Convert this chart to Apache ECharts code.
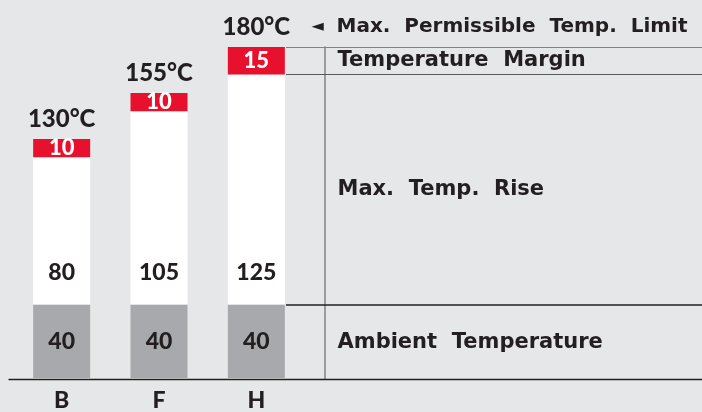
<!DOCTYPE html>
<html>
<head>
<meta charset="utf-8">
<script src="https://cdn.jsdelivr.net/npm/echarts@6/dist/echarts.min.js"></script>
<style>
  html, body { margin: 0; padding: 0; background: #e6e7e8; }
  #chart { width: 702px; height: 412px; }
</style>
</head>
<body>
<div id="chart"></div>
<script>
// insulation classes and their temperature parts (°C)
const categories = ['B', 'F', 'H'];
const ambient = [40, 40, 40];
const tempRise = [80, 105, 125];
const margin = [10, 10, 15];
// texts of the legend on the right
const bandNames = ['Ambient  Temperature', 'Max.  Temp.  Rise', 'Temperature  Margin'];
const limitName = 'Max.  Permissible  Temp.  Limit';

const totals = categories.map((c, i) => ambient[i] + tempRise[i] + margin[i]);
const yMax = Math.max(...totals);

// levels of the tallest column, used for the legend on the right
const h = totals.indexOf(yMax);
const lv1 = ambient[h];
const lv2 = lv1 + tempRise[h];
const lv3 = lv2 + margin[h];

const FONT = 'Lato';
const LEGEND_FONT = 'DejaVu Sans';
const DARK = '#231f20';
const W = 900;

let myChart = echarts.init(document.getElementById('chart'));
let option = {
    backgroundColor: '#e6e7e8',
    animation: false,
    textStyle: { fontFamily: FONT },
    grid: [
        { left: 13, top: 47, width: 292, bottom: 33 },
        { left: 286, top: 47, right: 0, bottom: 33 },
        // only for the base line across the whole width
        { left: 9, top: 47, right: 0, bottom: 33 }
    ],
    xAxis: [
        {
            type: 'category',
            gridIndex: 0,
            data: categories,
            axisLine: { show: false },
            axisTick: { show: false },
            axisLabel: { color: DARK, fontSize: 23, fontWeight: W, fontFamily: FONT, margin: 11 }
        },
        {
            type: 'value',
            gridIndex: 1,
            min: 0,
            max: 1,
            show: false
        },
        {
            type: 'value',
            gridIndex: 2,
            min: 0,
            max: 1,
            axisLine: { show: true, lineStyle: { color: DARK, width: 1.3 } },
            axisTick: { show: false },
            axisLabel: { show: false },
            splitLine: { show: false }
        }
    ],
    yAxis: [
        {
            type: 'value',
            gridIndex: 0,
            min: 0,
            max: yMax,
            show: false
        },
        {
            type: 'value',
            gridIndex: 1,
            min: 0,
            max: yMax,
            offset: -39,
            axisLine: { show: true, lineStyle: { color: '#808285', width: 1.5 } },
            axisTick: { show: false },
            axisLabel: { show: false },
            splitLine: { show: false }
        },
        {
            type: 'value',
            gridIndex: 2,
            min: 0,
            max: yMax,
            show: false
        }
    ],
    series: [
        {
            name: 'ambient',
            type: 'bar',
            stack: 'temp',
            barWidth: 57,
            itemStyle: { color: '#a7a9ac' },
            label: {
                show: true,
                position: 'inside',
                color: DARK,
                fontSize: 23,
                fontWeight: W,
                fontFamily: FONT
            },
            data: ambient
        },
        {
            name: 'rise',
            type: 'bar',
            stack: 'temp',
            barWidth: 57,
            itemStyle: { color: '#ffffff' },
            label: {
                show: true,
                position: 'insideBottom',
                distance: 20,
                color: DARK,
                fontSize: 23,
                fontWeight: W,
                fontFamily: FONT
            },
            data: tempRise
        },
        {
            name: 'margin',
            type: 'bar',
            stack: 'temp',
            barWidth: 57,
            itemStyle: { color: '#e8112d' },
            label: {
                show: true,
                position: 'inside',
                color: '#ffffff',
                fontSize: 22,
                fontWeight: W,
                fontFamily: FONT
            },
            data: margin
        },
        {
            // total temperature above each column
            name: 'total',
            type: 'bar',
            stack: 'temp',
            barWidth: 57,
            itemStyle: { color: 'transparent' },
            label: {
                show: true,
                position: 'top',
                distance: 8,
                color: DARK,
                fontSize: 24,
                fontWeight: W,
                fontFamily: FONT,
                formatter: function (p) {
                    return totals[p.dataIndex] + '°C';
                }
            },
            data: categories.map(() => 0)
        },
        {
            // legend on the right
            name: 'legend',
            type: 'scatter',
            xAxisIndex: 1,
            yAxisIndex: 1,
            symbolSize: 1,
            itemStyle: { color: 'transparent', opacity: 1 },
            label: {
                show: true,
                position: 'right',
                distance: 51,
                color: DARK,
                opacity: 1,
                fontSize: 21,
                fontWeight: 'bold',
                fontFamily: LEGEND_FONT,
                formatter: '{b}'
            },
            data: [
                { name: bandNames[0], value: [0, lv1 / 2] },
                { name: bandNames[1], value: [0, (lv1 + lv2) / 2] },
                { name: bandNames[2], value: [0, (lv2 + lv3) / 2] },
                {
                    name: limitName,
                    value: [0, lv3],
                    label: {
                        position: [26, -20],
                        align: 'left',
                        verticalAlign: 'middle',
                        formatter: '{a|◄}{b|{b}}',
                        rich: {
                            a: { fontSize: 16, width: 25, color: DARK, fontFamily: 'DejaVu Sans' },
                            b: { fontSize: 20, fontWeight: 'bold', color: DARK, fontFamily: LEGEND_FONT }
                        }
                    }
                }
            ],
            markLine: {
                silent: true,
                symbol: 'none',
                label: { show: false },
                data: [
                    { yAxis: lv1, lineStyle: { color: DARK, width: 1.5, type: 'solid' } },
                    { yAxis: lv2, lineStyle: { color: '#58595b', width: 1.2, type: 'solid' } },
                    { yAxis: lv3, lineStyle: { color: '#808285', width: 1.2, type: 'solid' } }
                ]
            }
        }
    ]
};
myChart.setOption(option);
</script>
</body>
</html>
